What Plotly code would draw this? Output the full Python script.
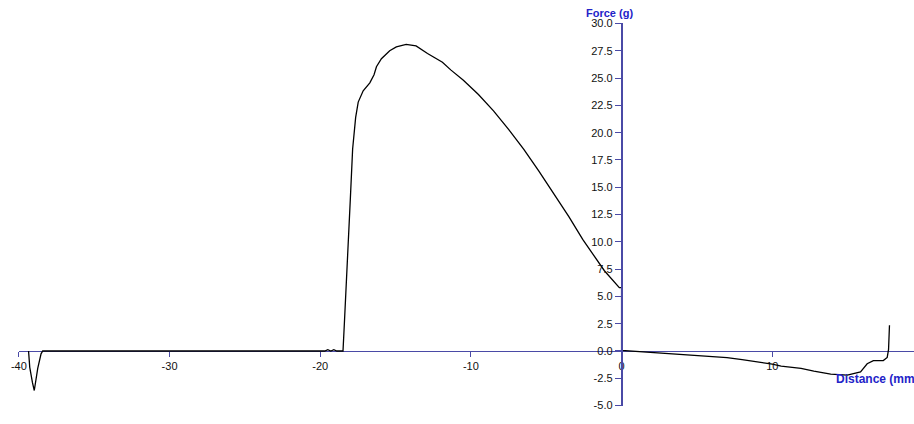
import plotly.graph_objects as go

# Force vs. distance trace of a texture analyser run
distance_mm = [
    -39.36, -39.28, -39.1, -38.98, -38.75, -38.53, -38.42,
    -30.0, -19.7, -19.5, -19.3, -19.1, -18.9, -18.55,
    -18.49, -18.4, -18.31, -18.15, -18.0, -17.85, -17.75, -17.65, -17.48,
    -17.15, -16.71, -16.43, -16.27, -15.94, -15.39, -14.95, -14.3,
    -13.64, -12.88, -11.89, -11.34, -10.5, -9.5, -8.5, -7.5, -6.5, -5.5,
    -4.5, -3.5, -2.57, -1.36, -1.14, -0.15, 0.0, 0.0,
    1.0, 2.0, 3.0, 4.0, 5.0, 6.0, 7.0, 8.0, 9.0, 10.0, 10.59, 11.91,
    12.76, 13.88, 14.98, 15.86, 16.3, 16.71, 17.37, 17.63, 17.72, 17.78,
]
force_g = [
    0.0, -1.5, -2.9, -3.62, -1.59, -0.26, 0.0,
    0.0, 0.0, 0.12, 0.0, 0.12, 0.0, 0.0,
    0.0, 2.5, 4.85, 9.0, 14.0, 18.5, 20.3, 21.4, 22.8,
    23.83, 24.56, 25.3, 26.04, 26.77, 27.51, 27.86, 28.09,
    27.95, 27.25, 26.45, 25.75, 24.8, 23.5, 22.0, 20.3, 18.5, 16.5,
    14.4, 12.3, 10.2, 7.8, 7.35, 5.8, 5.8, 0.05,
    -0.05, -0.12, -0.2, -0.3, -0.4, -0.5, -0.6, -0.8, -1.0, -1.2, -1.39, -1.59,
    -1.85, -2.12, -2.21, -1.92, -1.17, -0.88, -0.88, -0.59, 0.15, 2.36,
]

x_tick_vals = [-40, -30, -20, -10, 0, 10, 20]
x_tick_text = ["-40", "-30", "-20", "-10", "0", "10", "20"]
y_tick_vals = [-5.0, -2.5, 0.0, 2.5, 5.0, 7.5, 10.0, 12.5, 15.0, 17.5, 20.0, 22.5, 25.0, 27.5, 30.0]
y_tick_text = ["-5.0", "-2.5", "0.0", "2.5", "5.0", "7.5", "10.0", "12.5", "15.0",
               "17.5", "20.0", "22.5", "25.0", "27.5", "30.0"]

AXIS_BLUE = "#4a4aa6"
TITLE_BLUE = "#2323c8"
tick_font = dict(family="Liberation Sans Narrow, Arial Narrow, sans-serif", size=11, color="#111111")

W, H = 914, 424
PX_PER_MM = 15.2
X0_PX = 619          # pixel column of distance 0
Y0_PX = 355          # pixel row of force 0
Y_TOP_PX = 18        # pixel row of force 30
Y_BOT_PX = 411.2     # pixel row of force -5

fig = go.Figure(
    go.Scatter(
        x=distance_mm, y=force_g, mode="lines",
        line=dict(color="black", width=1.3),
        hoverinfo="skip",
    )
)

x_left = X0_PX - 40 * PX_PER_MM
fig.update_layout(
    width=W, height=H,
    margin=dict(l=0, r=0, t=0, b=0),
    paper_bgcolor="white", plot_bgcolor="white",
    showlegend=False,
    xaxis=dict(
        domain=[x_left / W, 1.0], range=[-40, (W - X0_PX) / PX_PER_MM],
        anchor="free", position=(H - Y0_PX) / H,
        showline=True, linecolor=AXIS_BLUE, linewidth=1,
        ticks="outside", ticklen=5, tickcolor=AXIS_BLUE,
        tickvals=x_tick_vals, ticktext=x_tick_text, tickfont=tick_font,
        showgrid=False, zeroline=False, layer="below traces",
    ),
    yaxis=dict(
        domain=[(H - Y_BOT_PX) / H, (H - Y_TOP_PX) / H], range=[-5, 30],
        anchor="free", position=X0_PX / W,
        showline=True, linecolor=AXIS_BLUE, linewidth=1.6,
        ticks="outside", ticklen=6, tickcolor=AXIS_BLUE,
        tickvals=y_tick_vals, ticktext=y_tick_text, tickfont=tick_font,
        showgrid=False, zeroline=False,
    ),
    annotations=[
        dict(text="<b>Force (g)</b>", xref="paper", yref="paper",
             x=607 / W, y=1.0, xanchor="center", yanchor="top",
             showarrow=False, borderpad=0,
             font=dict(family="Liberation Sans, Arial, sans-serif", size=11, color=TITLE_BLUE)),
        dict(text="<b>Distance (mm)</b>", xref="paper", yref="paper",
             x=833 / W, y=(H - 384) / H, xanchor="left", yanchor="middle",
             showarrow=False,
             font=dict(family="Liberation Sans, Arial, sans-serif", size=12, color=TITLE_BLUE)),
    ],
)

fig.write_html("out.html")
